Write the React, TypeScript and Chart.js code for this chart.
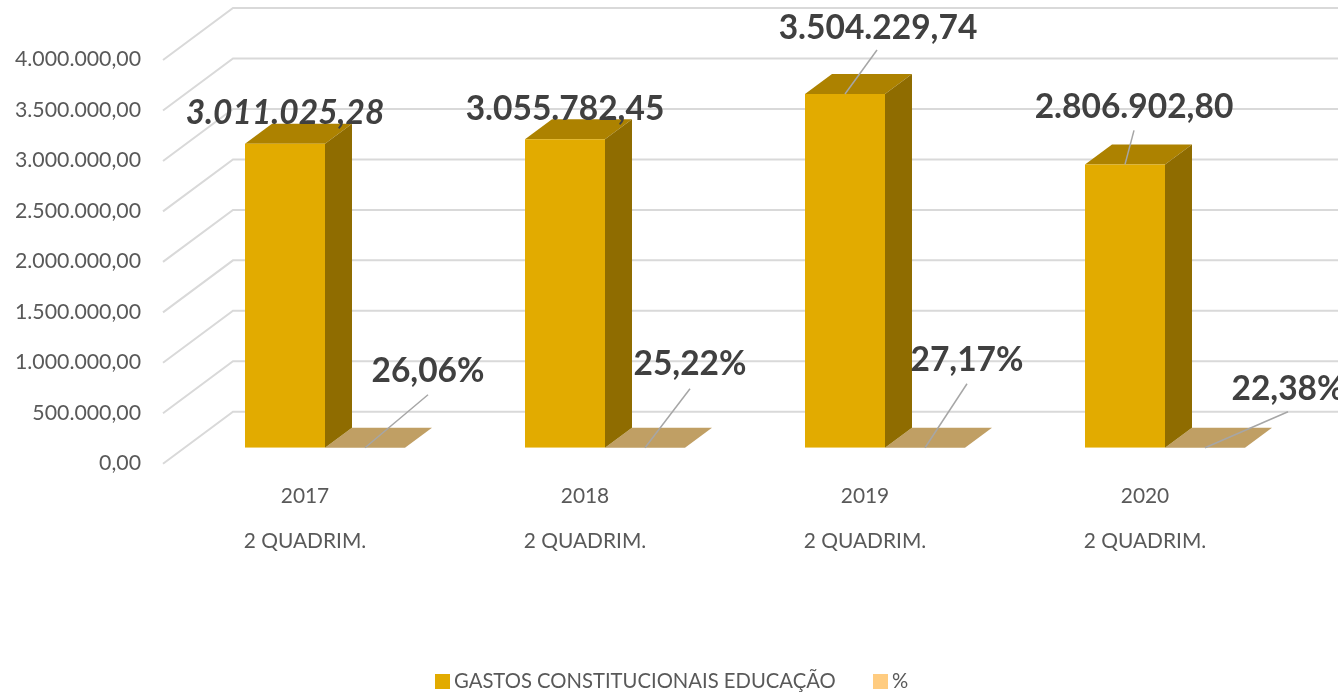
import React, { useEffect, useRef } from "react";
import { Chart, registerables } from "chart.js";

Chart.register(...registerables);

const years = ["2017", "2018", "2019", "2020"];
const period = "2 QUADRIM.";
const gastos = [3011025.28, 3055782.45, 3504229.74, 2806902.8];
const percentuais = [26.06, 25.22, 27.17, 22.38];
const seriesNames = ["GASTOS CONSTITUCIONAIS EDUCAÇÃO", "%"];

const FONT = "Lato";
const money = (v: number) => {
  const [i, d] = v.toFixed(2).split(".");
  return i.replace(/\B(?=(\d{3})+(?!\d))/g, ".") + "," + d;
};
const pct = (v: number) => v.toFixed(2).replace(".", ",") + "%";

// [label dx, label dy, leader dx, leader dy] relative to the bar's anchor
const gastosLabelPos = [
  [0, -31, null, null],
  [0, -30, null, null],
  [33, -66, 32, -44],
  [9, -57, 9, -34],
];
const pctLabelPos = [
  [63, -77, 63, -53],
  [45, -84, 45, -59],
  [42, -88, 42, -64],
  [83, -59, 83, -36],
];

const box = (color: string) => {
  const c = document.createElement("canvas");
  c.width = 15;
  c.height = 15;
  const g = c.getContext("2d")!;
  g.fillStyle = color;
  g.fillRect(0, 0, 15, 15);
  return c;
};

const DEPTH_X = 27;
const DEPTH_Y = 20;

const scene = {
  id: "scene3d",
  afterLayout(chart: any) {
    chart.legend.top = 628.5;
    chart.legend.left += 22;
    chart.legend.right += 22;
  },
  beforeDatasetsDraw(chart: any) {
    const ctx = chart.ctx;
    const { x, y } = chart.scales;
    const left = x.left;
    const right = x.right;
    ctx.save();
    ctx.strokeStyle = "#D9D9D9";
    ctx.lineWidth = 2;
    y.ticks.forEach((t: any) => {
      const py = y.getPixelForValue(t.value);
      ctx.beginPath();
      ctx.moveTo(left - 22, py + 16);
      ctx.lineTo(left + 48, py - 36);
      ctx.lineTo(right + 48, py - 36);
      ctx.stroke();
    });
    const poly = (pts: number[][], color: string) => {
      ctx.fillStyle = color;
      ctx.beginPath();
      pts.forEach((p, i) => (i ? ctx.lineTo(p[0], p[1]) : ctx.moveTo(p[0], p[1])));
      ctx.closePath();
      ctx.fill();
    };
    chart.getDatasetMeta(1).data.forEach((b: any) => {
      const l = b.x - b.width / 2;
      const r = b.x + b.width / 2;
      poly([[l, b.base], [r, b.base], [r + DEPTH_X, b.base - DEPTH_Y], [l + DEPTH_X, b.base - DEPTH_Y]], "#C09F64");
    });
    chart.getDatasetMeta(0).data.forEach((b: any) => {
      const l = b.x - b.width / 2;
      const r = b.x + b.width / 2;
      poly([[l, b.y], [r, b.y], [r + DEPTH_X, b.y - DEPTH_Y], [l + DEPTH_X, b.y - DEPTH_Y]], "#AD8200");
      poly([[r, b.y], [r + DEPTH_X, b.y - DEPTH_Y], [r + DEPTH_X, b.base - DEPTH_Y], [r, b.base]], "#8F6C00");
    });
    ctx.restore();
  },
  afterDatasetsDraw(chart: any) {
    const ctx = chart.ctx;
    ctx.save();
    ctx.textAlign = "center";
    ctx.textBaseline = "middle";
    const put = (b: any, text: string, p: any[], italic: boolean) => {
      if (p[2] !== null) {
        ctx.strokeStyle = "#A6A6A6";
        ctx.lineWidth = 1.5;
        ctx.beginPath();
        ctx.moveTo(b.x, b.y);
        ctx.lineTo(b.x + p[2], b.y + p[3]);
        ctx.stroke();
      }
      ctx.font = `${italic ? "italic " : ""}bold 33.5px ${FONT}`;
      ctx.fillStyle = "#404040";
      ctx.fillText(text, b.x + p[0], b.y + p[1]);
    };
    chart.getDatasetMeta(0).data.forEach((b: any, i: number) =>
      put(b, money(gastos[i]), gastosLabelPos[i], i === 0)
    );
    chart.getDatasetMeta(1).data.forEach((b: any, i: number) =>
      put(b, pct(percentuais[i]), pctLabelPos[i], false)
    );
    ctx.restore();
  },
};

export default function App() {
  const ref = useRef<HTMLCanvasElement>(null);
  useEffect(() => {
    document.body.style.margin = "0";
    document.body.style.background = "#fff";
    const chart = new Chart(ref.current!, {
      type: "bar",
      data: {
        labels: years.map((y) => [y, period]),
        datasets: [
          { label: seriesNames[0], data: gastos, backgroundColor: "#E2AB00", categoryPercentage: 160 / 280, barPercentage: 1 },
          { label: seriesNames[1], data: percentuais, backgroundColor: "#C09F64", categoryPercentage: 160 / 280, barPercentage: 1 },
        ],
      },
      options: {
        responsive: false,
        animation: false,
        layout: { autoPadding: false, padding: { left: 0, right: 33, top: 44, bottom: 0 } },
        plugins: {
          tooltip: { enabled: false },
          legend: {
            position: "bottom",
            labels: {
              usePointStyle: true,
              pointStyleWidth: 3,
              padding: 43,
              color: "#595959",
              font: { family: FONT, size: 20.25 },
              generateLabels: () =>
                seriesNames.map((text, i) => ({
                  text,
                  datasetIndex: i,
                  fontColor: "#595959",
                  pointStyle: box(i === 0 ? "#E2AB00" : "#FFCC80"),
                  lineWidth: 0,
                  hidden: false,
                })),
            },
          },
        },
        scales: {
          x: {
            grid: { display: false },
            border: { display: false },
            afterFit: (s: any) => {
              s.height = 173;
            },
            ticks: {
              maxRotation: 0,
              autoSkip: false,
              labelOffset: -20,
              padding: 18,
              color: "#595959",
              font: { family: FONT, size: 20.9, lineHeight: 45 / 20.9 },
            },
          },
          y: {
            min: 0,
            max: 4000000,
            grid: { display: false },
            border: { display: false },
            afterFit: (s: any) => {
              s.width = 185;
              s.paddingTop = 0;
              s.paddingBottom = 0;
            },
            ticks: {
              stepSize: 500000,
              labelOffset: 15.5,
              padding: 36,
              color: "#595959",
              font: { family: FONT, size: 21.3 },
              callback: (v: any) => money(Number(v)),
            },
          },
        },
      },
      plugins: [scene],
    } as any);
    return () => chart.destroy();
  }, []);
  return (
    <div style={{ width: 1338, height: 694, overflow: "hidden" }}>
      <canvas ref={ref} width={1338} height={694} style={{ display: "block" }} />
    </div>
  );
}
